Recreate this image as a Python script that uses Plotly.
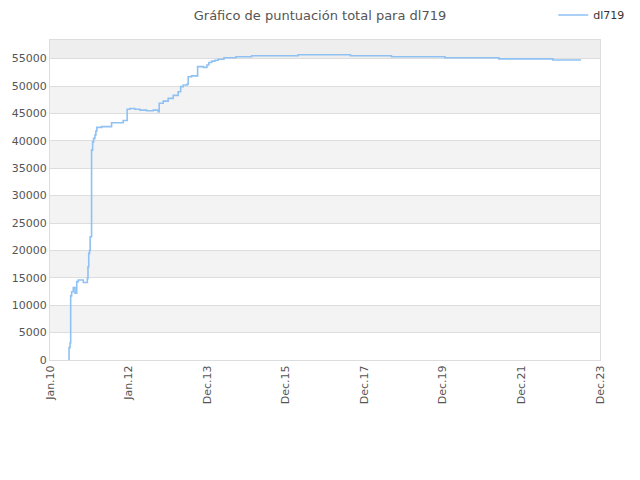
import plotly.graph_objects as go

# total score history for dl719 (step line)
dates = [
    "2010-06-23", "2010-06-26", "2010-07-05", "2010-07-11", "2010-07-20",
    "2010-08-04", "2010-08-20", "2010-09-05", "2010-09-20", "2010-11-05",
    "2010-12-12", "2010-12-18", "2010-12-25", "2011-01-02", "2011-01-07",
    "2011-01-20", "2011-01-30", "2011-02-08", "2011-02-20", "2011-03-01",
    "2011-03-10", "2011-04-23", "2011-07-24", "2011-11-08", "2011-12-15",
    "2012-01-09", "2012-02-24", "2012-04-11", "2012-06-12", "2012-08-11",
    "2012-09-27", "2012-10-06", "2012-11-12", "2012-12-28", "2013-02-12",
    "2013-03-30", "2013-04-22", "2013-05-16", "2013-06-22", "2013-07-01",
    "2013-08-01", "2013-09-26", "2013-11-17", "2013-12-21", "2014-01-08",
    "2014-02-02", "2014-03-05", "2014-04-04", "2014-05-27", "2014-09-15",
    "2015-02-07", "2016-04-12", "2017-08-08", "2018-08-22", "2019-12-29",
    "2021-05-11", "2022-09-22", "2023-06-08",
]
scores = [
    0, 2250, 3100, 11700, 12450,
    13200, 12200, 14300, 14600, 14150,
    14900, 17000, 19450, 20000, 22500,
    38300, 39800, 40450, 41050, 41800,
    42450, 42600, 43300, 43700, 45750,
    45900, 45750, 45600, 45500, 45600,
    45300, 46850, 47250, 47750, 48300,
    48950, 49900, 50200, 50350, 51700,
    51850, 53550, 53400, 53850, 54300,
    54550, 54700, 54880, 55170, 55350,
    55530, 55720, 55530, 55350, 55150,
    54950, 54750, 54750,
]

tick_dates = ["2010-01-01", "2011-12-28", "2013-12-23", "2015-12-19",
              "2017-12-14", "2019-12-10", "2021-12-05", "2023-12-01"]
tick_labels = ["Jan.10", "Jan.12", "Dec.13", "Dec.15",
               "Dec.17", "Dec.19", "Dec.21", "Dec.23"]
y_ticks = list(range(0, 55001, 5000))
y_top = 58400

fig = go.Figure()
fig.add_trace(go.Scatter(
    x=dates, y=scores,
    mode="lines",
    line=dict(color="#8fc1f2", width=1.6, shape="hv"),
    name="dl719",
))

# alternating horizontal bands
shapes = []
for lo in range(5000, 55000, 10000):
    shapes.append(dict(type="rect", xref="paper", yref="y", x0=0, x1=1,
                       y0=lo, y1=lo + 5000, fillcolor="#f3f3f3",
                       line=dict(width=0), layer="below"))
shapes.append(dict(type="rect", xref="paper", yref="y", x0=0, x1=1,
                   y0=55000, y1=y_top, fillcolor="#eeeeee",
                   line=dict(width=0), layer="below"))

fig.update_layout(
    width=640, height=480,
    margin=dict(l=42, r=48, t=32, b=128, autoexpand=False),
    paper_bgcolor="white", plot_bgcolor="white",
    font=dict(family="DejaVu Sans", size=11, color="#555555"),
    title=dict(text="Gráfico de puntuación total para dl719",
               x=0.4875, xanchor="center", y=0.985, yanchor="middle",
               font=dict(size=13, color="#555555")),
    showlegend=True,
    legend=dict(x=1.055, y=1.078, xanchor="right", yanchor="middle",
                bgcolor="rgba(0,0,0,0)", font=dict(size=11, color="#333333")),
    shapes=shapes,
    xaxis=dict(
        type="date",
        range=[tick_dates[0], tick_dates[-1]],
        tickvals=tick_dates, ticktext=tick_labels,
        tickangle=-90, showgrid=False, zeroline=False,
        showline=True, linecolor="#dddddd", mirror=True,
        ticks="", automargin=False,
        tickfont=dict(size=11, color="#555555"),
    ),
    yaxis=dict(
        range=[0, y_top], tickvals=y_ticks, tickformat="d",
        showgrid=True, gridcolor="#dddddd", zeroline=False,
        showline=True, linecolor="#dddddd", mirror=True,
        ticks="", automargin=False,
        tickfont=dict(size=11, color="#555555"),
    ),
)

fig.write_html("out.html")
